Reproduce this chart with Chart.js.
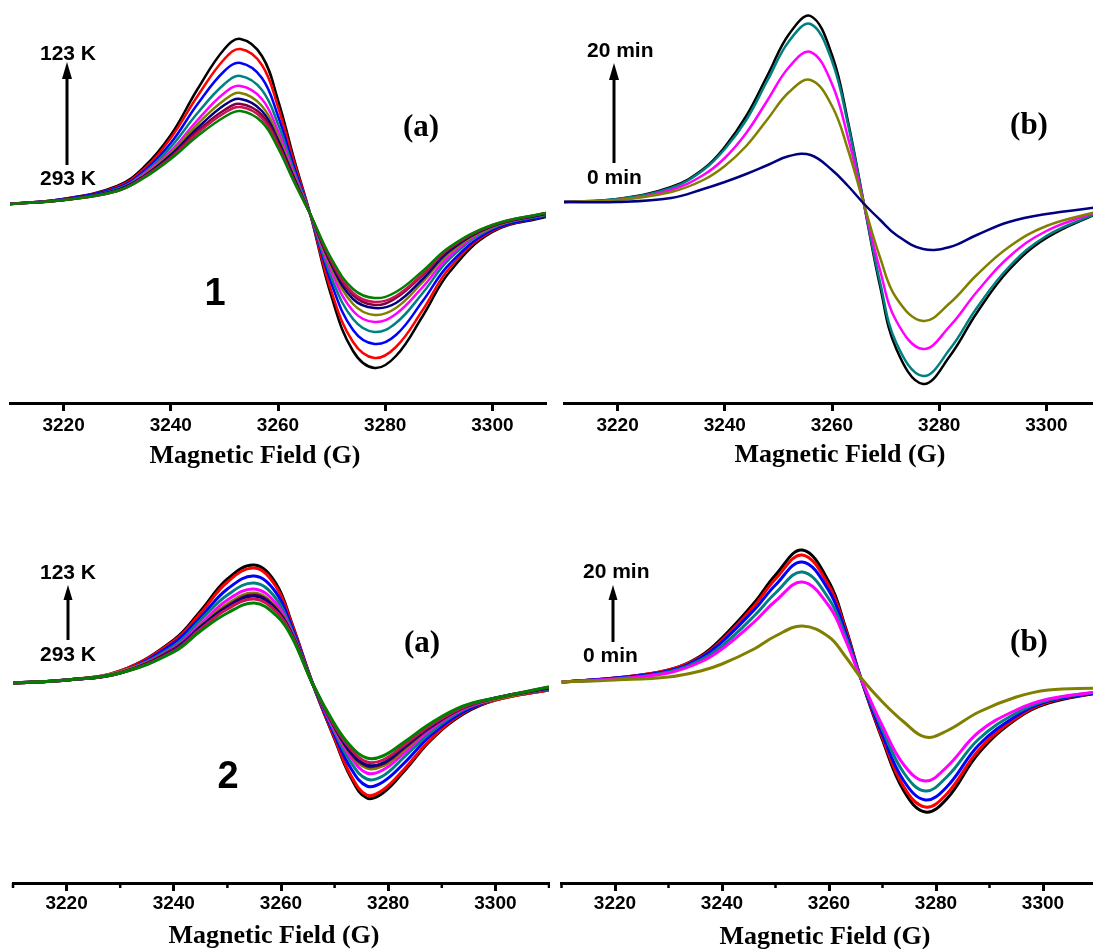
<!DOCTYPE html>
<html>
<head>
<meta charset="utf-8">
<title>EPR spectra 1 and 2</title>
<script src="https://cdn.jsdelivr.net/npm/chart.js@4.4.1/dist/chart.umd.min.js"></script>
<style>
  html, body { margin: 0; padding: 0; background: #fff; }
  #page { position: relative; width: 1093px; height: 949px; overflow: hidden; }
  #page canvas { position: absolute; }
</style>
</head>
<body>
<div id="page">
  <canvas id="panel1a" width="550" height="470" style="left:0;top:0"></canvas>
  <canvas id="panel1b" width="550" height="470" style="left:550px;top:0"></canvas>
  <canvas id="panel2a" width="550" height="479" style="left:0;top:470px"></canvas>
  <canvas id="panel2b" width="550" height="479" style="left:550px;top:470px"></canvas>
</div>
<script>
// ======= DATA (signal in arbitrary units, 0 = left baseline) =======
const majorTicks = [3220, 3240, 3260, 3280, 3300];
const minorTicks = [3210, 3230, 3250, 3270, 3290, 3310];
const axisTitle = "Magnetic Field (G)";

// 1 (a) : 123 K -> 293 K
const field1a = [3210, 3220, 3230, 3235, 3240, 3245, 3250, 3253, 3257, 3260, 3263, 3266, 3270, 3274, 3278, 3282, 3287, 3292, 3300, 3310];
const s1aBlack   = [0, 5, 18, 37, 69, 115, 155, 165, 148, 104, 45, -10, -93, -147, -164, -152, -112, -68, -28, -13];
const s1aRed     = [0, 5, 17, 35, 66, 108, 145, 155, 139, 97, 42, -10, -88, -138, -154, -143, -106, -64, -27, -12];
const s1aBlue    = [0, 5, 16, 33, 61, 100, 133, 141, 126, 88, 37, -10, -80, -126, -140, -131, -97, -60, -26, -12];
const s1aTeal    = [0, 4, 15, 31, 57, 91, 120, 128, 114, 80, 33, -10, -74, -115, -128, -119, -89, -55, -24, -11];
const s1aMagenta = [0, 4, 14, 30, 53, 84, 111, 118, 105, 73, 30, -10, -68, -107, -118, -110, -83, -52, -23, -10];
const s1aOlive   = [0, 4, 14, 29, 51, 80, 104, 111, 98, 68, 28, -10, -64, -100, -111, -104, -78, -49, -23, -10];
const s1aNavy    = [0, 4, 14, 28, 49, 76, 99, 105, 93, 64, 26, -10, -61, -95, -104, -99, -75, -47, -22, -10];
const s1aWine    = [0, 4, 13, 27, 47, 73, 94, 100, 89, 61, 24, -10, -59, -91, -101, -94, -71, -45, -22, -9];
const s1aCrimson = [0, 4, 13, 27, 46, 71, 91, 97, 86, 59, 23, -10, -57, -89, -98, -92, -70, -44, -21, -9];
const s1aGreen   = [0, 4, 13, 26, 45, 68, 87, 93, 82, 56, 22, -10, -55, -85, -94, -88, -67, -43, -21, -9];

// 1 (b) : 0 min -> 20 min
const field1b = [3210, 3220, 3230, 3236, 3240, 3244, 3248, 3252, 3256, 3260, 3263, 3266, 3269, 3272, 3277, 3282, 3287, 3293, 3300, 3310];
const s1bBlack   = [0, 3, 15, 33, 55, 86, 127, 168, 186, 147, 80, -3, -85, -147, -182, -154, -111, -68, -36, -10];
const s1bTeal    = [0, 3, 14, 32, 53, 82, 122, 161, 178, 141, 77, -3, -81, -141, -174, -147, -106, -65, -34, -10];
const s1bMagenta = [0, 2, 12, 27, 44, 69, 102, 135, 150, 118, 64, -3, -69, -119, -147, -124, -90, -55, -29, -9];
const s1bOlive   = [0, 2, 10, 22, 36, 56, 83, 110, 122, 96, 52, -3, -56, -96, -119, -101, -73, -45, -24, -9];
const s1bNavy    = [0, 0, 4, 13, 20, 28, 37, 46, 47, 32, 16, -2, -18, -33, -47, -45, -33, -20, -12, -5];

// 2 (a) : 123 K -> 293 K
const field2a = [3210, 3220, 3230, 3240, 3245, 3250, 3255, 3259, 3262, 3266, 3270, 3273, 3276, 3279, 3283, 3288, 3294, 3300, 3310];
const s2aBlack   = [0, 3, 12, 43, 72, 104, 118, 100, 60, -2, -56, -94, -115, -110, -88, -57, -31, -17, -7];
const s2aRed     = [0, 3, 12, 42, 70, 101, 115, 97, 59, -2, -55, -92, -112, -107, -86, -56, -30, -17, -7];
const s2aBlue    = [0, 3, 11, 40, 66, 94, 107, 91, 56, -2, -52, -85, -103, -99, -80, -52, -29, -16, -6];
const s2aTeal    = [0, 3, 11, 37, 63, 88, 100, 85, 53, -2, -49, -79, -96, -93, -74, -49, -27, -16, -6];
const s2aMagenta = [0, 3, 11, 35, 59, 83, 94, 80, 51, -2, -47, -74, -90, -87, -70, -46, -26, -16, -5];
const s2aOlive   = [0, 3, 11, 34, 57, 79, 90, 76, 50, -2, -45, -71, -85, -83, -67, -44, -25, -16, -5];
const s2aWine    = [0, 3, 10, 34, 56, 77, 88, 75, 49, -2, -44, -70, -83, -81, -65, -44, -25, -15, -5];
const s2aNavy    = [0, 3, 10, 33, 56, 76, 87, 74, 49, -2, -44, -69, -82, -80, -64, -43, -24, -15, -5];
const s2aCrimson = [0, 3, 10, 32, 54, 74, 84, 72, 48, -2, -43, -66, -79, -77, -62, -42, -24, -15, -4];
const s2aGreen   = [0, 3, 10, 31, 52, 70, 80, 68, 46, -2, -41, -63, -75, -73, -59, -40, -23, -15, -4];

// 2 (b) : 0 min -> 20 min
const field2b = [3210, 3220, 3230, 3236, 3240, 3246, 3250, 3255, 3260, 3263, 3266, 3270, 3274, 3278, 3282, 3288, 3295, 3301, 3310];
const s2bBlack   = [0, 4, 12, 26, 44, 79, 107, 132, 100, 56, 3, -58, -109, -130, -117, -71, -37, -21, -11];
const s2bRed     = [0, 4, 12, 25, 42, 76, 103, 127, 96, 54, 3, -56, -105, -125, -112, -68, -36, -20, -11];
const s2bBlue    = [0, 4, 11, 24, 40, 72, 97, 120, 91, 51, 3, -53, -99, -118, -105, -63, -34, -19, -11];
const s2bTeal    = [0, 3, 10, 22, 36, 66, 89, 110, 83, 47, 3, -48, -91, -109, -95, -57, -31, -18, -10];
const s2bMagenta = [0, 3, 9, 20, 33, 60, 81, 100, 76, 43, 3, -44, -83, -99, -85, -50, -28, -17, -10];
const s2bOlive   = [0, 2, 5, 11, 18, 33, 46, 56, 45, 26, 4, -20, -40, -55, -49, -30, -15, -8, -6];

const C = {
  black: "#000000", red: "#ff0000", blue: "#0000ff", teal: "#008080", magenta: "#ff00ff",
  olive: "#808000", navy: "#000080", wine: "#800040", crimson: "#cc1155", green: "#008000"
};

// ======= HELPERS =======
function toPoints(field, ys) {
  return field.map((x, i) => ({ x: x, y: ys[i] }));
}

// last series of the list is drawn on top
function buildDatasets(field, series, width) {
  return series.map((s, i) => ({
    data: toPoints(field, s[1]),
    borderColor: s[0],
    borderWidth: width,
    pointRadius: 0,
    fill: false,
    tension: 0.4,
    order: series.length - i
  }));
}

// arrow, labels, axis title, minor ticks
function makeDecor(cfg) {
  return {
    id: "panelDecor",
    afterDraw(chart) {
      const ctx = chart.ctx;
      const xs = chart.scales.x;
      const axisY = chart.chartArea.bottom;
      ctx.save();
      ctx.strokeStyle = "#000";
      ctx.fillStyle = "#000";

      if (cfg.minor) {
        ctx.lineWidth = 2.5;
        cfg.minor.forEach(v => {
          const px = xs.getPixelForValue(v);
          ctx.beginPath();
          ctx.moveTo(px, axisY);
          ctx.lineTo(px, axisY + 5);
          ctx.stroke();
        });
      }

      const a = cfg.arrow;
      ctx.lineWidth = 3;
      ctx.beginPath();
      ctx.moveTo(a.x, a.tail);
      ctx.lineTo(a.x, a.tip + a.head - 2);
      ctx.stroke();
      ctx.beginPath();
      ctx.moveTo(a.x, a.tip);
      ctx.lineTo(a.x - a.half, a.tip + a.head);
      ctx.lineTo(a.x + a.half, a.tip + a.head);
      ctx.closePath();
      ctx.fill();

      ctx.textBaseline = "alphabetic";
      cfg.texts.forEach(t => {
        ctx.font = t.css;
        ctx.textAlign = t.align;
        ctx.fillText(t.text, t.x, t.y);
      });
      ctx.restore();
    }
  };
}

function makeChart(id, datasets, yMin, yMax, pad, decor) {
  const el = document.getElementById(id);
  return new Chart(el, {
    type: "line",
    data: { datasets: datasets },
    options: {
      responsive: false,
      maintainAspectRatio: false,
      animation: false,
      layout: { padding: pad },
      plugins: { legend: { display: false }, tooltip: { enabled: false } },
      scales: {
        x: {
          type: "linear",
          min: 3210,
          max: 3310,
          afterBuildTicks: axis => { axis.ticks = majorTicks.map(v => ({ value: v })); },
          ticks: {
            callback: v => String(v),
            color: "#000",
            padding: pad.tickPad,
            maxRotation: 0,
            autoSkip: false,
            font: { family: "'Liberation Sans', Arial, sans-serif", size: 19, weight: "bold" }
          },
          grid: {
            display: true,
            drawOnChartArea: false,
            drawTicks: true,
            tickLength: 8,
            tickWidth: 3,
            tickColor: "#000"
          },
          border: { display: true, color: "#000", width: 3 }
        },
        y: { display: false, min: yMin, max: yMax }
      }
    },
    plugins: [decor]
  });
}

const fontLabel = "bold 21px 'Liberation Sans', Arial, sans-serif";
const fontTag = "bold 31px 'Liberation Serif', 'Times New Roman', serif";
const fontNum = "bold 38px 'Liberation Sans', Arial, sans-serif";
const fontTitle = "bold 26px 'Liberation Serif', 'Times New Roman', serif";

document.addEventListener("DOMContentLoaded", function () {
  // ======= 1 (a) =======
  makeChart("panel1a",
    buildDatasets(field1a, [
      [C.black, s1aBlack], [C.red, s1aRed], [C.blue, s1aBlue], [C.teal, s1aTeal],
      [C.magenta, s1aMagenta], [C.olive, s1aOlive], [C.navy, s1aNavy], [C.wine, s1aWine],
      [C.crimson, s1aCrimson], [C.green, s1aGreen]
    ], 2.5),
    -199, 204,
    { left: 10, right: 4, top: 0, bottom: 30.2, tickPad: 3 },
    makeDecor({
      arrow: { x: 67, tip: 62, tail: 165, head: 17, half: 5 },
      texts: [
        { text: "123 K", x: 40, y: 60, css: fontLabel, align: "left" },
        { text: "293 K", x: 40, y: 185, css: fontLabel, align: "left" },
        { text: "(a)", x: 421, y: 136, css: fontTag, align: "center" },
        { text: "1", x: 215, y: 305, css: fontNum, align: "center" },
        { text: axisTitle, x: 255, y: 463, css: fontTitle, align: "center" }
      ]
    }));

  // ======= 1 (b) =======
  makeChart("panel1b",
    buildDatasets(field1b, [
      [C.black, s1bBlack], [C.teal, s1bTeal], [C.magenta, s1bMagenta],
      [C.olive, s1bOlive], [C.navy, s1bNavy]
    ], 2.5),
    -201, 202,
    { left: 14, right: 0, top: 0, bottom: 30.2, tickPad: 3 },
    makeDecor({
      arrow: { x: 64, tip: 63, tail: 163, head: 17, half: 5 },
      texts: [
        { text: "20 min", x: 37, y: 57, css: fontLabel, align: "left" },
        { text: "0 min", x: 37, y: 184, css: fontLabel, align: "left" },
        { text: "(b)", x: 479, y: 134, css: fontTag, align: "center" },
        { text: axisTitle, x: 290, y: 462, css: fontTitle, align: "center" }
      ]
    }));

  // ======= 2 (a) =======
  makeChart("panel2a",
    buildDatasets(field2a, [
      [C.black, s2aBlack], [C.red, s2aRed], [C.blue, s2aBlue], [C.teal, s2aTeal],
      [C.magenta, s2aMagenta], [C.olive, s2aOlive], [C.wine, s2aWine], [C.navy, s2aNavy],
      [C.crimson, s2aCrimson], [C.green, s2aGreen]
    ], 3),
    -200, 213,
    { left: 13, right: 1, top: 0, bottom: 33.2, tickPad: 1 },
    makeDecor({
      minor: minorTicks,
      arrow: { x: 68, tip: 115, tail: 170, head: 15, half: 4.5 },
      texts: [
        { text: "123 K", x: 40, y: 109, css: fontLabel, align: "left" },
        { text: "293 K", x: 40, y: 191, css: fontLabel, align: "left" },
        { text: "(a)", x: 422, y: 182, css: fontTag, align: "center" },
        { text: "2", x: 228, y: 318, css: fontNum, align: "center" },
        { text: axisTitle, x: 274, y: 473, css: fontTitle, align: "center" }
      ]
    }));

  // ======= 2 (b) =======
  makeChart("panel2b",
    buildDatasets(field2b, [
      [C.black, s2bBlack], [C.red, s2bRed], [C.blue, s2bBlue], [C.teal, s2bTeal],
      [C.magenta, s2bMagenta], [C.olive, s2bOlive]
    ], 3),
    -201, 212,
    { left: 11.5, right: 3.5, top: 0, bottom: 33.2, tickPad: 1 },
    makeDecor({
      minor: minorTicks,
      arrow: { x: 63, tip: 115, tail: 172, head: 15, half: 4.5 },
      texts: [
        { text: "20 min", x: 33, y: 108, css: fontLabel, align: "left" },
        { text: "0 min", x: 33, y: 192, css: fontLabel, align: "left" },
        { text: "(b)", x: 479, y: 181, css: fontTag, align: "center" },
        { text: axisTitle, x: 275, y: 474, css: fontTitle, align: "center" }
      ]
    }));
});
</script>
</body>
</html>
